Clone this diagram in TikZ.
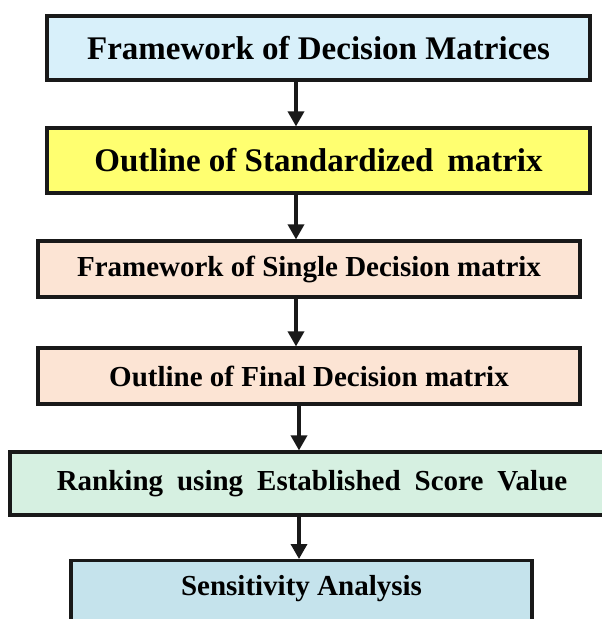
\documentclass[tikz,border=0pt]{standalone}
\usepackage{fontspec}
\setmainfont{Liberation Serif}
\usetikzlibrary{arrows.meta}

\definecolor{boxblue}{RGB}{216,240,250}
\definecolor{boxyellow}{RGB}{255,255,112}
\definecolor{boxpeach}{RGB}{252,228,212}
\definecolor{boxgreen}{RGB}{214,240,225}
\definecolor{boxcyan}{RGB}{197,227,236}

\tikzset{
    stage/.style={draw=black!90, line width=3.2bp, inner sep=0pt, align=center},
    bigtext/.style={font=\bfseries\fontsize{33bp}{38bp}\selectfont},
    smalltext/.style={font=\bfseries\fontsize{29bp}{34bp}\selectfont},
    arr/.style={line width=3.4bp, draw=black!90, -{Triangle[width=16bp,length=15bp]}}
}

\begin{document}
\begin{tikzpicture}[x=1bp, y=-1bp]
            % 画布大小
            \useasboundingbox (0,0) rectangle (602,619);
            \clip (0,0) rectangle (602,619);

            % 各个步骤的方框
            \node[stage, bigtext, fill=boxblue, minimum width=543bp, minimum height=64bp]
                (frame) at (318.5, 48) {Framework of Decision Matrices};
            \node[stage, bigtext, fill=boxyellow, minimum width=543bp, minimum height=65bp]
                (stand) at (318.5, 160.5) {Outline of Standardized \,matrix};
            \node[stage, smalltext, fill=boxpeach, minimum width=542bp, minimum height=56bp]
                (single) at (309, 269) {Framework of Single Decision matrix};
            \node[stage, smalltext, fill=boxpeach, minimum width=542bp, minimum height=56bp]
                (final) at (309, 376) {Outline of Final Decision matrix};
            \node[stage, smalltext, fill=boxgreen, minimum width=604bp, minimum height=63bp]
                (rank) at (312, 483.5) {\spaceskip=14bp Ranking using Established Score Value};
            % 最后一个方框超出下边界
            \node[stage, smalltext, fill=boxcyan, minimum width=461bp, text height=35bp, text depth=40bp, anchor=north]
                (sens) at (301.5, 559) {Sensitivity Analysis};

            % 箭头的横坐标
            \coordinate (ax) at (296, 0);
            \coordinate (bx) at (299, 0);

            % 绘制箭头
            \draw[arr] (frame.south -| ax) -- (stand.north -| ax);
            \draw[arr] (stand.south -| ax) -- (single.north -| ax);
            \draw[arr] (single.south -| ax) -- (final.north -| ax);
            \draw[arr] (final.south -| bx) -- (rank.north -| bx);
            \draw[arr] (rank.south -| bx) -- (sens.north -| bx);
        \end{tikzpicture}
\end{document}
